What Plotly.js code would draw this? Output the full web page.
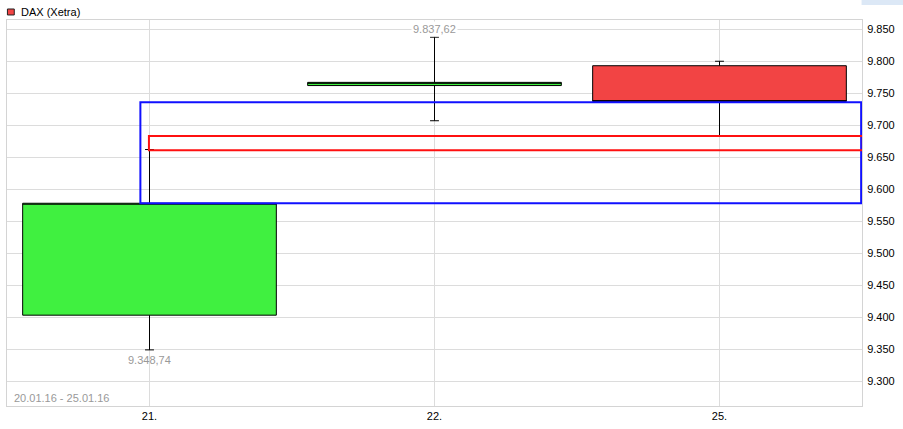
<!DOCTYPE html>
<html><head>
<meta charset="utf-8"/>
<title>DAX (Xetra)</title>
<script src="https://cdn.plot.ly/plotly-3.0.1.min.js"></script>
<style>
  * { margin: 0px; padding: 0px }
  body { background: #fff }
  #chart { width: 903px; height: 429px }
</style>
</head><body>
<div id="chart"></div>
<script>
// daily candles, values
var days   = ['21.', '22.', '25.'];
var open   = [9403, 9762, 9793];
var high   = [9662, 9837.62, 9800];
var low    = [9348.74, 9707, 9683];
var close  = [9578, 9767, 9737];

var yTicks = [9300, 9350, 9400, 9450, 9500, 9550, 9600, 9650, 9700, 9750, 9800, 9850];

// the two boxes drawn over the candles
var blueBand = [9578, 9736];
var redBand  = [9661, 9683];

var seriesName = 'DAX (Xetra)';
var periodText = '20.01.16 - 25.01.16';

function fmtDE(v){
    var parts = v.toFixed(2).split('.');
    parts[0] = parts[0].replace(/\B(?=(\d{3})+(?!\d))/g, '.');
    return parts[0] + ',' + parts[1];
}

var hiIdx = high.indexOf(Math.max.apply(null, high));
var loIdx = low.indexOf(Math.min.apply(null, low));

var trace = {
    type: 'candlestick',
    x: days, open: open, high: high, low: low, close: close,
    whiskerwidth: 0.035,
    increasing: {fillcolor: '#40f040', line: {color: '#000', width: 1}},
    decreasing: {fillcolor: '#f24444', line: {color: '#000', width: 1}},
    showlegend: false,
    hoverinfo: 'none'
};

var font = {family: 'Liberation Sans, Arial, sans-serif', size: 11, color: '#000'};
var grey = {family: font.family, size: 11, color: '#999'};

var layout = {
    width: 903, height: 429,
    margin: {l: 7, r: 41, t: 20, b: 23},
    paper_bgcolor: '#fff', plot_bgcolor: '#fff',
    separators: ',.',
    boxgap: 0.11, boxgroupgap: 0,
    showlegend: false,
    font: font,
    xaxis: {
        type: 'category', range: [-0.5, 2.5],
        rangeslider: {visible: false},
        showgrid: true, gridcolor: '#dcdcdc', gridwidth: 1,
        showline: true, mirror: true, linecolor: '#d4d4d4', linewidth: 1,
        ticks: '', tickfont: font, fixedrange: true
    },
    yaxis: {
        side: 'right', range: [9261, 9864.5],
        tickvals: yTicks, tickformat: ',d',
        showgrid: true, gridcolor: '#dcdcdc', gridwidth: 1,
        showline: true, mirror: true, linecolor: '#d4d4d4', linewidth: 1,
        zeroline: false, ticks: '', ticklabelstandoff: 2,
        tickfont: font, fixedrange: true
    },
    shapes: [
        {type: 'rect', xref: 'x', yref: 'y', x0: -0.032, x1: 2.497,
         y0: blueBand[0], y1: blueBand[1], line: {color: '#1010ff', width: 2}},
        {type: 'rect', xref: 'x', yref: 'y', x0: -0.002, x1: 2.503,
         y0: redBand[0], y1: redBand[1], line: {color: '#ff1010', width: 2}},
        // legend swatch
        {type: 'rect', xref: 'paper', yref: 'paper', x0: 0.0005, x1: 0.0085,
         y0: 1.013, y1: 1.0285, fillcolor: '#f24444', line: {color: '#222', width: 1}},
        // bit of toolbar at top right
        {type: 'rect', xref: 'paper', yref: 'paper', x0: 0.9995, x1: 1.048,
         y0: 1.039, y1: 1.06, fillcolor: '#dce8f6', line: {width: 0}, layer: 'below'}
    ],
    annotations: [
        {xref: 'paper', yref: 'paper', x: 0.0145, y: 1.0205, xanchor: 'left', yanchor: 'middle',
         text: seriesName, showarrow: false, font: font},
        {xref: 'x', yref: 'y', x: hiIdx, y: high[hiIdx], xanchor: 'center', yanchor: 'bottom',
         yshift: 0, text: fmtDE(high[hiIdx]), showarrow: false, bgcolor: '#fff', font: grey},
        {xref: 'x', yref: 'y', x: loIdx, y: low[loIdx], xanchor: 'center', yanchor: 'top',
         yshift: -2, text: fmtDE(low[loIdx]), showarrow: false, font: grey},
        {xref: 'paper', yref: 'paper', x: 0.006, y: 0.0, xanchor: 'left', yanchor: 'bottom',
         text: periodText, showarrow: false, font: grey}
    ]
};

Plotly.newPlot('chart', [trace], layout, {displayModeBar: false, staticPlot: true});
</script>
</body></html>
